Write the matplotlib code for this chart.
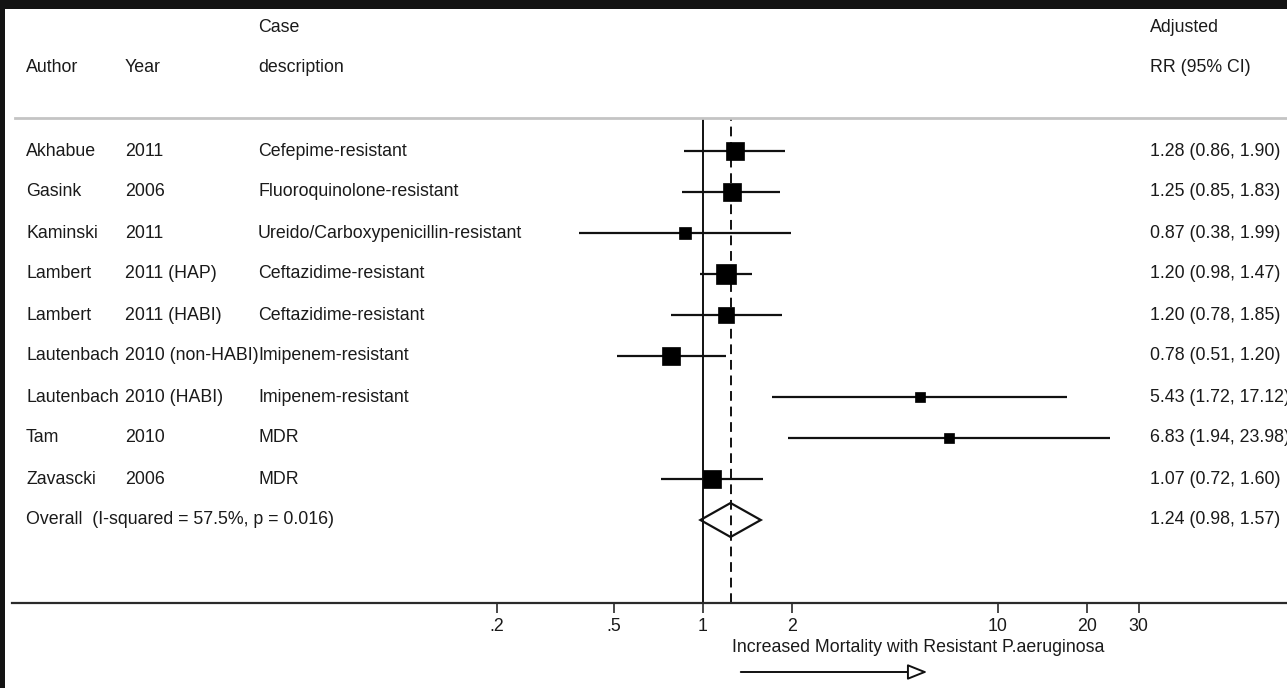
import matplotlib
matplotlib.use('Agg')
import matplotlib.pyplot as plt
import matplotlib.transforms as mtransforms
from matplotlib.patches import Rectangle, FancyArrowPatch, Polygon
from matplotlib.lines import Line2D
import numpy as np

plt.rcParams['font.family'] = ['Liberation Sans', 'DejaVu Sans']

# ---------------- data ----------------
authors = ["Akhabue", "Gasink", "Kaminski", "Lambert", "Lambert",
           "Lautenbach", "Lautenbach", "Tam", "Zavascki"]
years = ["2011", "2006", "2011", "2011 (HAP)", "2011 (HABI)",
         "2010 (non-HABI)", "2010 (HABI)", "2010", "2006"]
cases = ["Cefepime-resistant", "Fluoroquinolone-resistant",
         "Ureido/Carboxypenicillin-resistant", "Ceftazidime-resistant",
         "Ceftazidime-resistant", "Imipenem-resistant", "Imipenem-resistant",
         "MDR", "MDR"]
rr = [1.28, 1.25, 0.87, 1.20, 1.20, 0.78, 5.43, 6.83, 1.07]
ci_low = [0.86, 0.85, 0.38, 0.98, 0.78, 0.51, 1.72, 1.94, 0.72]
ci_high = [1.90, 1.83, 1.99, 1.47, 1.85, 1.20, 17.12, 23.98, 1.60]
weights = [13.6, 13.6, 6.8, 18.9, 12.6, 13.6, 3.8, 3.8, 13.6]  # % weights (box area)
rr_text = ["1.28 (0.86, 1.90)", "1.25 (0.85, 1.83)", "0.87 (0.38, 1.99)",
           "1.20 (0.98, 1.47)", "1.20 (0.78, 1.85)", "0.78 (0.51, 1.20)",
           "5.43 (1.72, 17.12)", "6.83 (1.94, 23.98)", "1.07 (0.72, 1.60)"]

overall_label = "Overall  (I-squared = 57.5%, p = 0.016)"
overall_rr = 1.24
overall_low = 0.98
overall_high = 1.57
overall_text = "1.24 (0.98, 1.57)"

tick_values = [0.2, 0.5, 1, 2, 10, 20, 30]
tick_labels = [".2", ".5", "1", "2", "10", "20", "30"]
xlabel = "Increased Mortality with Resistant P.aeruginosa"

# ---------------- layout ----------------
FS = 12.8
W, H = 1287, 688
fig = plt.figure(figsize=(W / 100, H / 100), dpi=100, facecolor='#131313')
fig.add_artist(Rectangle((5 / W, 0), 1 - 5 / W, 1 - 9 / H, transform=fig.transFigure,
                         facecolor='white', edgecolor='none', zorder=-10))

ax_left, ax_right = 12, 1287
ax_top, ax_bottom = 118, 603
ax = fig.add_axes([ax_left / W, 1 - ax_bottom / H, (ax_right - ax_left) / W,
                   (ax_bottom - ax_top) / H])
ax.set_facecolor('none')
ax.set_xscale('log')
px_one, px_decade = 703, 295
ax.set_xlim(10 ** ((ax_left - px_one) / px_decade), 10 ** ((ax_right - px_one) / px_decade))
row0, row_step = 151, 41
ax.set_ylim((ax_bottom - row0) / row_step, (ax_top - row0) / row_step)

for s in ['top', 'right', 'left']:
    ax.spines[s].set_visible(False)
ax.spines['bottom'].set_color('#2a2a2a')
ax.spines['bottom'].set_linewidth(1.6)
ax.set_yticks([])
ax.set_xticks(tick_values)
ax.set_xticklabels(tick_labels)
ax.xaxis.set_minor_locator(matplotlib.ticker.NullLocator())
ax.tick_params(axis='x', direction='out', length=7, width=1.2, color='#2a2a2a',
               labelsize=FS, labelcolor='#1a1a1a', pad=4)

n = len(authors)
ys = np.arange(n)

# reference lines
ax.axvline(1, color='#111111', lw=1.4, zorder=1)
ax.axvline(overall_rr, color='#111111', lw=1.4, ls=(0, (5, 3)), zorder=1)

# CIs and boxes
ax.hlines(ys, ci_low, ci_high, color='#111111', lw=1.6, zorder=2)
wmax = max(weights)
for y, r, w in zip(ys, rr, weights):
    size_px = 20.5 * np.sqrt(w / wmax)
    ax.plot([r], [y], marker='s', ms=size_px * 72 / 100, color='black',
            mec='black', mew=0.5, ls='none', zorder=3)

# overall diamond
oy = n
h = 17 / row_step
diamond = Polygon([[overall_low, oy], [overall_rr, oy - h], [overall_high, oy],
                   [overall_rr, oy + h]], closed=True, facecolor='none',
                  edgecolor='#111111', lw=1.6, zorder=3)
ax.add_patch(diamond)

# text columns
trans = mtransforms.blended_transform_factory(fig.transFigure, ax.transData)
col_author, col_year, col_case, col_rr = 26, 125, 258, 1150
tkw = dict(fontsize=FS, color='#1a1a1a', va='center', transform=trans, clip_on=False)
for y, a, yr, c, t in zip(ys, authors, years, cases, rr_text):
    ax.text(col_author / W, y, a, **tkw)
    ax.text(col_year / W, y, yr, **tkw)
    ax.text(col_case / W, y, c, **tkw)
    ax.text(col_rr / W, y, t, **tkw)
ax.text(col_author / W, oy, overall_label, **tkw)
ax.text(col_rr / W, oy, overall_text, **tkw)

# headers
hkw = dict(fontsize=FS, color='#1a1a1a', va='center')
fig.text(col_case / W, 1 - 27 / H, "Case", **hkw)
fig.text(col_rr / W, 1 - 27 / H, "Adjusted", **hkw)
fig.text(col_author / W, 1 - 68 / H, "Author", **hkw)
fig.text(col_year / W, 1 - 68 / H, "Year", **hkw)
fig.text(col_case / W, 1 - 68 / H, "description", **hkw)
fig.text(col_rr / W, 1 - 68 / H, "RR (95% CI)", **hkw)

# header separator
fig.add_artist(Line2D([15 / W, 1], [1 - 118 / H, 1 - 118 / H], transform=fig.transFigure,
                      color='#c4c4c4', lw=2))

# x label and arrow
fig.text(918 / W, 1 - 648 / H, xlabel, fontsize=FS, color='#1a1a1a', ha='center', va='center')
arrow = FancyArrowPatch((738 / W, 1 - 672 / H), (930 / W, 1 - 672 / H),
                        transform=fig.transFigure,
                        arrowstyle='-|>,head_length=1.0,head_width=0.4',
                        mutation_scale=12, facecolor='white', edgecolor='#111111', lw=1.4)
fig.add_artist(arrow)

fig.savefig('out.png', dpi=100, facecolor=fig.get_facecolor())
